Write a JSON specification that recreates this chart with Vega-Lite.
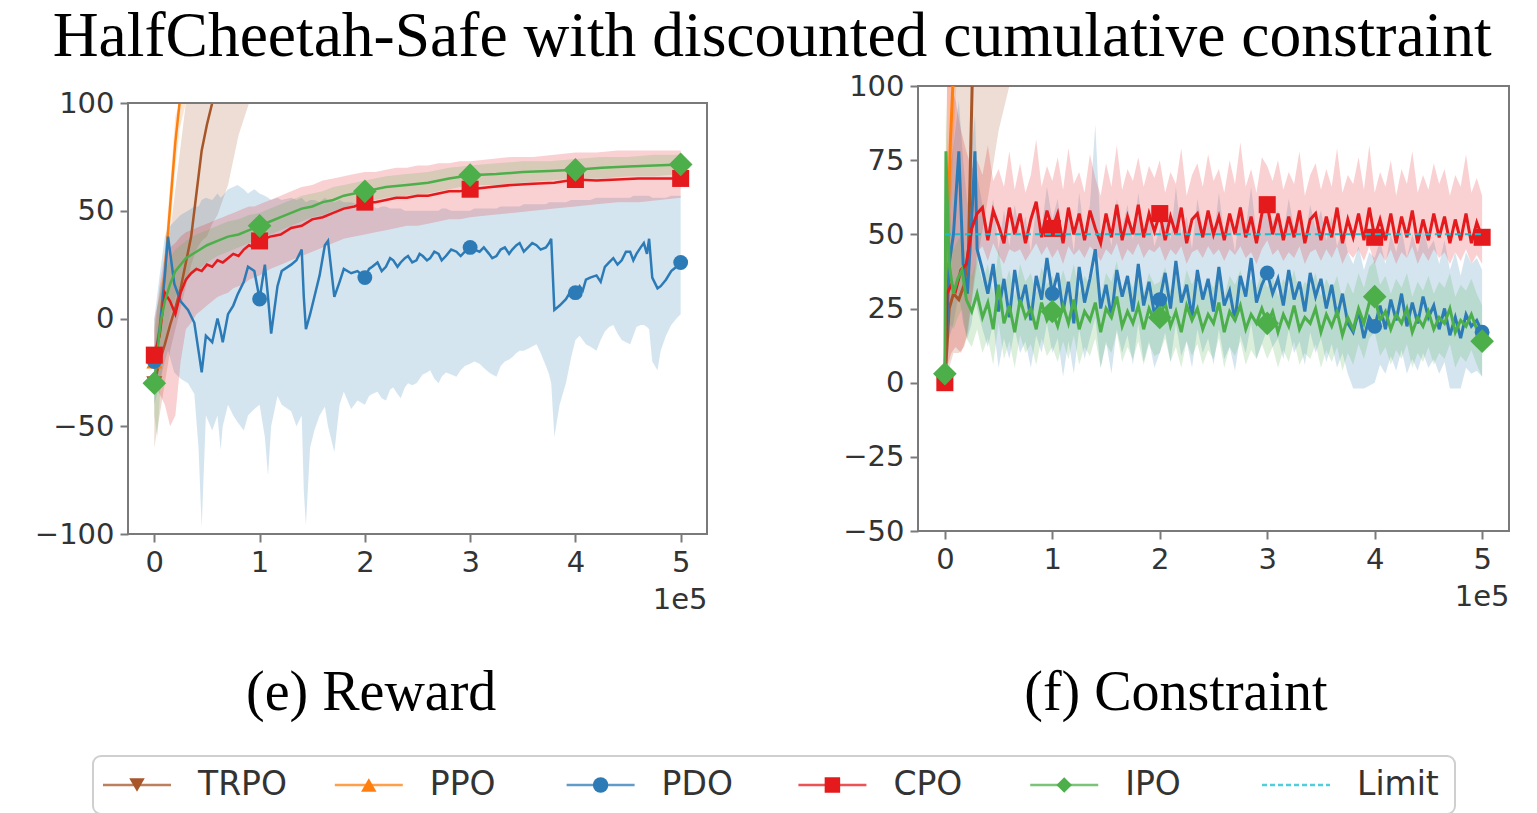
{
"$schema": "https://vega.github.io/schema/vega-lite/v6.json",
"background": "white",
"padding": {"left": 34, "top": 4, "right": 0, "bottom": 0},
"title": {"text": "HalfCheetah-Safe with discounted cumulative constraint", "fontSize": 63.5, "font": "Liberation Serif", "fontWeight": "normal", "color": "#000000", "anchor": "middle", "offset": 2},
"config": {
 "view": {"stroke": "#7a7a7a", "strokeWidth": 2},
 "axis": {"labelFont": "DejaVu Sans", "labelFontSize": 29, "labelColor": "#333333", "tickColor": "#7a7a7a", "tickWidth": 2, "tickSize": 8, "labelPadding": 6, "domain": false, "grid": false, "titleFont": "DejaVu Sans", "titleFontSize": 29, "titleFontWeight": "normal", "titleColor": "#333333"},
 "title": {"font": "Liberation Serif", "fontWeight": "normal", "color": "#000000"}
},
"datasets": {
"rew": [
{"a":"TRPO","x":0,"y":-30,"l":-60,"h":0},
{"a":"TRPO","x":0.05,"y":-20,"l":-45,"h":10},
{"a":"TRPO","x":0.1,"y":-12,"l":-30,"h":25},
{"a":"TRPO","x":0.15,"y":-3,"l":-15,"h":40},
{"a":"TRPO","x":0.2,"y":5,"l":-5,"h":60},
{"a":"TRPO","x":0.25,"y":14,"l":5,"h":80},
{"a":"TRPO","x":0.3,"y":26,"l":15,"h":100},
{"a":"TRPO","x":0.35,"y":38,"l":25,"h":120},
{"a":"TRPO","x":0.4,"y":58,"l":32,"h":140},
{"a":"TRPO","x":0.45,"y":78,"l":36,"h":160},
{"a":"TRPO","x":0.5,"y":90,"l":38,"h":180},
{"a":"TRPO","x":0.55,"y":100,"l":44,"h":200},
{"a":"TRPO","x":0.6,"y":110,"l":48,"h":220},
{"a":"TRPO","x":0.7,"y":130,"l":62,"h":240},
{"a":"TRPO","x":0.8,"y":150,"l":85,"h":260},
{"a":"TRPO","x":0.9,"y":170,"l":105,"h":280},
{"a":"PPO","x":0,"y":-20,"l":-25,"h":-15},
{"a":"PPO","x":0.05,"y":-5,"l":-12,"h":2},
{"a":"PPO","x":0.1,"y":22,"l":12,"h":32},
{"a":"PPO","x":0.15,"y":52,"l":40,"h":62},
{"a":"PPO","x":0.2,"y":82,"l":70,"h":94},
{"a":"PPO","x":0.24,"y":100,"l":88,"h":112},
{"a":"PPO","x":0.3,"y":130,"l":118,"h":142},
{"a":"PDO","x":0,"y":-20,"l":-40,"h":0},
{"a":"PDO","x":0.05,"y":-5,"l":-30,"h":20},
{"a":"PDO","x":0.1,"y":20,"l":-20,"h":38},
{"a":"PDO","x":0.13,"y":38,"l":-15,"h":42},
{"a":"PDO","x":0.19,"y":16,"l":-25,"h":45},
{"a":"PDO","x":0.25,"y":8,"l":-28,"h":48},
{"a":"PDO","x":0.32,"y":4,"l":-30,"h":50},
{"a":"PDO","x":0.38,"y":-2,"l":-35,"h":52},
{"a":"PDO","x":0.42,"y":-15,"l":-60,"h":52},
{"a":"PDO","x":0.45,"y":-25,"l":-97,"h":55},
{"a":"PDO","x":0.49,"y":-8,"l":-45,"h":56},
{"a":"PDO","x":0.55,"y":-11,"l":-52,"h":55},
{"a":"PDO","x":0.6,"y":0,"l":-45,"h":58},
{"a":"PDO","x":0.63,"y":-6,"l":-61,"h":56},
{"a":"PDO","x":0.65,"y":-11,"l":-50,"h":57},
{"a":"PDO","x":0.7,"y":2,"l":-40,"h":60},
{"a":"PDO","x":0.75,"y":6,"l":-45,"h":61},
{"a":"PDO","x":0.79,"y":11,"l":-48,"h":62},
{"a":"PDO","x":0.85,"y":17,"l":-52,"h":60},
{"a":"PDO","x":0.89,"y":24,"l":-45,"h":58},
{"a":"PDO","x":0.95,"y":22,"l":-42,"h":60},
{"a":"PDO","x":1,"y":9,"l":-40,"h":58},
{"a":"PDO","x":1.05,"y":25,"l":-55,"h":57},
{"a":"PDO","x":1.08,"y":10,"l":-73,"h":56},
{"a":"PDO","x":1.11,"y":-7,"l":-50,"h":55},
{"a":"PDO","x":1.17,"y":15,"l":-36,"h":56},
{"a":"PDO","x":1.21,"y":22,"l":-40,"h":55},
{"a":"PDO","x":1.3,"y":25,"l":-43,"h":56},
{"a":"PDO","x":1.35,"y":27,"l":-50,"h":55},
{"a":"PDO","x":1.4,"y":32,"l":-45,"h":56},
{"a":"PDO","x":1.42,"y":10,"l":-80,"h":55},
{"a":"PDO","x":1.44,"y":-5,"l":-96,"h":54},
{"a":"PDO","x":1.48,"y":2,"l":-60,"h":55},
{"a":"PDO","x":1.52,"y":10,"l":-52,"h":55},
{"a":"PDO","x":1.57,"y":20,"l":-45,"h":54},
{"a":"PDO","x":1.62,"y":34,"l":-41,"h":56},
{"a":"PDO","x":1.65,"y":36,"l":-50,"h":55},
{"a":"PDO","x":1.71,"y":10,"l":-62,"h":54},
{"a":"PDO","x":1.76,"y":17,"l":-40,"h":55},
{"a":"PDO","x":1.8,"y":23,"l":-34,"h":54},
{"a":"PDO","x":1.87,"y":21,"l":-42,"h":54},
{"a":"PDO","x":1.93,"y":22,"l":-38,"h":53},
{"a":"PDO","x":2,"y":19,"l":-40,"h":52},
{"a":"PDO","x":2.04,"y":23,"l":-36,"h":52},
{"a":"PDO","x":2.07,"y":24,"l":-35,"h":52},
{"a":"PDO","x":2.12,"y":26,"l":-34,"h":51},
{"a":"PDO","x":2.16,"y":22,"l":-37,"h":52},
{"a":"PDO","x":2.2,"y":24,"l":-38,"h":52},
{"a":"PDO","x":2.24,"y":28,"l":-33,"h":51},
{"a":"PDO","x":2.27,"y":27,"l":-32,"h":51},
{"a":"PDO","x":2.31,"y":24,"l":-35,"h":51},
{"a":"PDO","x":2.34,"y":26,"l":-37,"h":51},
{"a":"PDO","x":2.38,"y":28,"l":-32,"h":50},
{"a":"PDO","x":2.41,"y":29,"l":-30,"h":50},
{"a":"PDO","x":2.45,"y":26,"l":-31,"h":50},
{"a":"PDO","x":2.49,"y":27,"l":-30,"h":50},
{"a":"PDO","x":2.52,"y":30,"l":-28,"h":50},
{"a":"PDO","x":2.55,"y":29,"l":-26,"h":50},
{"a":"PDO","x":2.59,"y":27,"l":-25,"h":50},
{"a":"PDO","x":2.62,"y":28,"l":-24,"h":50},
{"a":"PDO","x":2.66,"y":31,"l":-28,"h":50},
{"a":"PDO","x":2.7,"y":30,"l":-30,"h":50},
{"a":"PDO","x":2.73,"y":27,"l":-27,"h":51},
{"a":"PDO","x":2.77,"y":29,"l":-25,"h":51},
{"a":"PDO","x":2.82,"y":32,"l":-26,"h":50},
{"a":"PDO","x":2.87,"y":31,"l":-27,"h":50},
{"a":"PDO","x":2.91,"y":29,"l":-24,"h":50},
{"a":"PDO","x":2.95,"y":31,"l":-22,"h":50},
{"a":"PDO","x":3,"y":33,"l":-21,"h":50},
{"a":"PDO","x":3.04,"y":32,"l":-20,"h":51},
{"a":"PDO","x":3.09,"y":31,"l":-21,"h":51},
{"a":"PDO","x":3.13,"y":33,"l":-23,"h":51},
{"a":"PDO","x":3.18,"y":30,"l":-25,"h":51},
{"a":"PDO","x":3.21,"y":28,"l":-26,"h":51},
{"a":"PDO","x":3.25,"y":29,"l":-27,"h":51},
{"a":"PDO","x":3.29,"y":32,"l":-22,"h":52},
{"a":"PDO","x":3.33,"y":33,"l":-20,"h":52},
{"a":"PDO","x":3.37,"y":30,"l":-19,"h":52},
{"a":"PDO","x":3.4,"y":32,"l":-18,"h":52},
{"a":"PDO","x":3.44,"y":34,"l":-16,"h":52},
{"a":"PDO","x":3.47,"y":35,"l":-15,"h":52},
{"a":"PDO","x":3.51,"y":31,"l":-15,"h":53},
{"a":"PDO","x":3.55,"y":33,"l":-14,"h":53},
{"a":"PDO","x":3.59,"y":35,"l":-13,"h":53},
{"a":"PDO","x":3.63,"y":34,"l":-12,"h":53},
{"a":"PDO","x":3.67,"y":32,"l":-16,"h":53},
{"a":"PDO","x":3.72,"y":33,"l":-22,"h":53},
{"a":"PDO","x":3.75,"y":35,"l":-26,"h":54},
{"a":"PDO","x":3.77,"y":37,"l":-30,"h":54},
{"a":"PDO","x":3.8,"y":4,"l":-55,"h":54},
{"a":"PDO","x":3.85,"y":6,"l":-40,"h":54},
{"a":"PDO","x":3.91,"y":9,"l":-30,"h":54},
{"a":"PDO","x":3.96,"y":13,"l":-18,"h":55},
{"a":"PDO","x":4,"y":12,"l":-10,"h":55},
{"a":"PDO","x":4.04,"y":15,"l":-8,"h":55},
{"a":"PDO","x":4.07,"y":13,"l":-10,"h":55},
{"a":"PDO","x":4.1,"y":18,"l":-12,"h":55},
{"a":"PDO","x":4.14,"y":19,"l":-13,"h":55},
{"a":"PDO","x":4.2,"y":20,"l":-15,"h":56},
{"a":"PDO","x":4.24,"y":17,"l":-10,"h":56},
{"a":"PDO","x":4.28,"y":24,"l":-6,"h":56},
{"a":"PDO","x":4.32,"y":26,"l":-4,"h":56},
{"a":"PDO","x":4.36,"y":28,"l":-3,"h":56},
{"a":"PDO","x":4.4,"y":25,"l":-7,"h":56},
{"a":"PDO","x":4.44,"y":27,"l":-10,"h":56},
{"a":"PDO","x":4.48,"y":31,"l":-11,"h":56},
{"a":"PDO","x":4.52,"y":31,"l":-12,"h":56},
{"a":"PDO","x":4.55,"y":27,"l":-8,"h":57},
{"a":"PDO","x":4.58,"y":30,"l":-4,"h":57},
{"a":"PDO","x":4.62,"y":33,"l":-3,"h":57},
{"a":"PDO","x":4.65,"y":35,"l":-3,"h":57},
{"a":"PDO","x":4.68,"y":30,"l":-4,"h":57},
{"a":"PDO","x":4.7,"y":37,"l":-5,"h":57},
{"a":"PDO","x":4.73,"y":19,"l":-20,"h":56},
{"a":"PDO","x":4.78,"y":14,"l":-24,"h":56},
{"a":"PDO","x":4.81,"y":15,"l":-15,"h":56},
{"a":"PDO","x":4.86,"y":18,"l":-8,"h":56},
{"a":"PDO","x":4.91,"y":22,"l":-3,"h":57},
{"a":"PDO","x":4.96,"y":24,"l":0,"h":57},
{"a":"PDO","x":5,"y":26,"l":2,"h":57},
{"a":"CPO","x":0,"y":-17,"l":-30,"h":-5},
{"a":"CPO","x":0.05,"y":-8,"l":-35,"h":15},
{"a":"CPO","x":0.1,"y":12,"l":-40,"h":30},
{"a":"CPO","x":0.15,"y":8,"l":-50,"h":33},
{"a":"CPO","x":0.2,"y":2,"l":-45,"h":35},
{"a":"CPO","x":0.25,"y":12,"l":-20,"h":38},
{"a":"CPO","x":0.3,"y":18,"l":-5,"h":40},
{"a":"CPO","x":0.35,"y":21,"l":-2,"h":41},
{"a":"CPO","x":0.4,"y":23,"l":2,"h":42},
{"a":"CPO","x":0.45,"y":22,"l":4,"h":43},
{"a":"CPO","x":0.5,"y":25,"l":6,"h":44},
{"a":"CPO","x":0.55,"y":24,"l":8,"h":45},
{"a":"CPO","x":0.6,"y":27,"l":10,"h":46},
{"a":"CPO","x":0.65,"y":26,"l":11,"h":47},
{"a":"CPO","x":0.7,"y":28,"l":12,"h":48},
{"a":"CPO","x":0.75,"y":30,"l":14,"h":49},
{"a":"CPO","x":0.8,"y":29,"l":15,"h":50},
{"a":"CPO","x":0.85,"y":32,"l":16,"h":51},
{"a":"CPO","x":0.9,"y":34,"l":18,"h":52},
{"a":"CPO","x":0.95,"y":33,"l":19,"h":52},
{"a":"CPO","x":1,"y":36,"l":20,"h":53},
{"a":"CPO","x":1.1,"y":38,"l":23,"h":55},
{"a":"CPO","x":1.2,"y":39,"l":25,"h":57},
{"a":"CPO","x":1.3,"y":42,"l":27,"h":59},
{"a":"CPO","x":1.4,"y":43,"l":29,"h":61},
{"a":"CPO","x":1.5,"y":46,"l":31,"h":62},
{"a":"CPO","x":1.6,"y":47,"l":33,"h":64},
{"a":"CPO","x":1.7,"y":49,"l":35,"h":65},
{"a":"CPO","x":1.8,"y":51,"l":37,"h":66},
{"a":"CPO","x":1.9,"y":52,"l":38,"h":67},
{"a":"CPO","x":2,"y":54,"l":39,"h":68},
{"a":"CPO","x":2.1,"y":54,"l":40,"h":68},
{"a":"CPO","x":2.2,"y":55,"l":41,"h":69},
{"a":"CPO","x":2.3,"y":56,"l":42,"h":70},
{"a":"CPO","x":2.4,"y":56,"l":43,"h":70},
{"a":"CPO","x":2.5,"y":57,"l":43,"h":71},
{"a":"CPO","x":2.6,"y":57,"l":44,"h":71},
{"a":"CPO","x":2.7,"y":58,"l":45,"h":72},
{"a":"CPO","x":2.8,"y":59,"l":46,"h":72},
{"a":"CPO","x":2.9,"y":59,"l":46,"h":73},
{"a":"CPO","x":3,"y":60,"l":47,"h":73},
{"a":"CPO","x":3.2,"y":61,"l":48,"h":74},
{"a":"CPO","x":3.4,"y":62,"l":49,"h":75},
{"a":"CPO","x":3.6,"y":62.5,"l":50,"h":75},
{"a":"CPO","x":3.8,"y":63,"l":51,"h":76},
{"a":"CPO","x":4,"y":64.5,"l":52,"h":77},
{"a":"CPO","x":4.2,"y":64,"l":53,"h":77},
{"a":"CPO","x":4.4,"y":64.5,"l":54,"h":78},
{"a":"CPO","x":4.6,"y":65,"l":54,"h":78},
{"a":"CPO","x":4.8,"y":65,"l":55,"h":78},
{"a":"CPO","x":5,"y":65,"l":56,"h":78},
{"a":"IPO","x":0,"y":-30,"l":-45,"h":-15},
{"a":"IPO","x":0.03,"y":-15,"l":-55,"h":5},
{"a":"IPO","x":0.06,"y":-2,"l":-30,"h":15},
{"a":"IPO","x":0.1,"y":8,"l":-10,"h":22},
{"a":"IPO","x":0.15,"y":16,"l":2,"h":28},
{"a":"IPO","x":0.2,"y":22,"l":10,"h":32},
{"a":"IPO","x":0.3,"y":28,"l":18,"h":36},
{"a":"IPO","x":0.4,"y":31,"l":22,"h":39},
{"a":"IPO","x":0.5,"y":34,"l":26,"h":41},
{"a":"IPO","x":0.6,"y":36,"l":29,"h":43},
{"a":"IPO","x":0.7,"y":38,"l":31,"h":45},
{"a":"IPO","x":0.8,"y":39,"l":33,"h":46},
{"a":"IPO","x":0.9,"y":41,"l":35,"h":48},
{"a":"IPO","x":1,"y":43,"l":37,"h":49},
{"a":"IPO","x":1.1,"y":45,"l":39,"h":51},
{"a":"IPO","x":1.2,"y":47,"l":41,"h":53},
{"a":"IPO","x":1.3,"y":49,"l":43,"h":55},
{"a":"IPO","x":1.4,"y":51,"l":45,"h":57},
{"a":"IPO","x":1.5,"y":52,"l":47,"h":58},
{"a":"IPO","x":1.6,"y":54,"l":48,"h":59},
{"a":"IPO","x":1.7,"y":55,"l":50,"h":61},
{"a":"IPO","x":1.8,"y":57,"l":51,"h":62},
{"a":"IPO","x":1.9,"y":58,"l":53,"h":63},
{"a":"IPO","x":2,"y":59,"l":54,"h":64},
{"a":"IPO","x":2.2,"y":61,"l":56,"h":66},
{"a":"IPO","x":2.4,"y":62,"l":57,"h":67},
{"a":"IPO","x":2.6,"y":63,"l":58,"h":68},
{"a":"IPO","x":2.8,"y":65,"l":60,"h":70},
{"a":"IPO","x":3,"y":66.5,"l":62,"h":71},
{"a":"IPO","x":3.25,"y":67,"l":62,"h":72},
{"a":"IPO","x":3.5,"y":68,"l":63,"h":73},
{"a":"IPO","x":3.75,"y":68.5,"l":64,"h":73},
{"a":"IPO","x":4,"y":69,"l":65,"h":74},
{"a":"IPO","x":4.25,"y":70,"l":65,"h":75},
{"a":"IPO","x":4.5,"y":70.5,"l":66,"h":75},
{"a":"IPO","x":4.75,"y":71,"l":66,"h":76},
{"a":"IPO","x":5,"y":71.5,"l":67,"h":76}
],
"con": [
{"a":"TRPO","x":0,"y":0,"l":-2,"h":2},
{"a":"TRPO","x":0.04,"y":25,"l":5,"h":80},
{"a":"TRPO","x":0.08,"y":30,"l":10,"h":110},
{"a":"TRPO","x":0.13,"y":28,"l":10,"h":130},
{"a":"TRPO","x":0.18,"y":33,"l":12,"h":150},
{"a":"TRPO","x":0.22,"y":45,"l":18,"h":170},
{"a":"TRPO","x":0.26,"y":110,"l":30,"h":190},
{"a":"TRPO","x":0.32,"y":150,"l":45,"h":210},
{"a":"TRPO","x":0.4,"y":170,"l":62,"h":230},
{"a":"TRPO","x":0.5,"y":190,"l":85,"h":250},
{"a":"TRPO","x":0.6,"y":210,"l":100,"h":270},
{"a":"PPO","x":0,"y":0,"l":-2,"h":2},
{"a":"PPO","x":0.02,"y":40,"l":20,"h":100},
{"a":"PPO","x":0.05,"y":80,"l":50,"h":120},
{"a":"PPO","x":0.08,"y":105,"l":80,"h":140},
{"a":"PPO","x":0.12,"y":140,"l":110,"h":170},
{"a":"PDO","x":0,"y":0,"l":-2,"h":2},
{"a":"PDO","x":0.04,"y":40,"l":15,"h":70},
{"a":"PDO","x":0.08,"y":50,"l":20,"h":80},
{"a":"PDO","x":0.13,"y":78,"l":30,"h":95},
{"a":"PDO","x":0.17,"y":40,"l":20,"h":75},
{"a":"PDO","x":0.21,"y":30,"l":15,"h":60},
{"a":"PDO","x":0.25,"y":55,"l":20,"h":80},
{"a":"PDO","x":0.28,"y":78,"l":30,"h":90},
{"a":"PDO","x":0.3,"y":45,"l":25,"h":70},
{"a":"PDO","x":0.35,"y":38,"l":18,"h":60},
{"a":"PDO","x":0.4,"y":30,"l":12,"h":52},
{"a":"PDO","x":0.45,"y":40,"l":20,"h":62},
{"a":"PDO","x":0.5,"y":24,"l":5,"h":45},
{"a":"PDO","x":0.55,"y":35,"l":15,"h":58},
{"a":"PDO","x":0.6,"y":22,"l":8,"h":46},
{"a":"PDO","x":0.65,"y":38,"l":18,"h":60},
{"a":"PDO","x":0.7,"y":26,"l":10,"h":50},
{"a":"PDO","x":0.75,"y":33,"l":14,"h":56},
{"a":"PDO","x":0.8,"y":21,"l":5,"h":44},
{"a":"PDO","x":0.85,"y":36,"l":16,"h":60},
{"a":"PDO","x":0.9,"y":28,"l":10,"h":52},
{"a":"PDO","x":0.95,"y":42,"l":20,"h":66},
{"a":"PDO","x":1,"y":30,"l":10,"h":55},
{"a":"PDO","x":1.05,"y":37,"l":15,"h":62},
{"a":"PDO","x":1.1,"y":24,"l":2,"h":48},
{"a":"PDO","x":1.15,"y":34,"l":14,"h":58},
{"a":"PDO","x":1.2,"y":20,"l":3,"h":44},
{"a":"PDO","x":1.25,"y":39,"l":18,"h":64},
{"a":"PDO","x":1.3,"y":27,"l":8,"h":50},
{"a":"PDO","x":1.35,"y":35,"l":15,"h":60},
{"a":"PDO","x":1.4,"y":45,"l":22,"h":87},
{"a":"PDO","x":1.45,"y":25,"l":5,"h":50},
{"a":"PDO","x":1.5,"y":33,"l":14,"h":56},
{"a":"PDO","x":1.55,"y":22,"l":3,"h":46},
{"a":"PDO","x":1.6,"y":38,"l":18,"h":62},
{"a":"PDO","x":1.65,"y":29,"l":10,"h":52},
{"a":"PDO","x":1.7,"y":36,"l":16,"h":60},
{"a":"PDO","x":1.75,"y":24,"l":6,"h":48},
{"a":"PDO","x":1.8,"y":40,"l":20,"h":64},
{"a":"PDO","x":1.85,"y":26,"l":7,"h":50},
{"a":"PDO","x":1.9,"y":34,"l":14,"h":58},
{"a":"PDO","x":1.95,"y":23,"l":5,"h":46},
{"a":"PDO","x":2,"y":28,"l":10,"h":52},
{"a":"PDO","x":2.05,"y":37,"l":17,"h":60},
{"a":"PDO","x":2.1,"y":25,"l":7,"h":48},
{"a":"PDO","x":2.15,"y":41,"l":20,"h":66},
{"a":"PDO","x":2.2,"y":27,"l":9,"h":50},
{"a":"PDO","x":2.25,"y":33,"l":14,"h":56},
{"a":"PDO","x":2.3,"y":22,"l":5,"h":45},
{"a":"PDO","x":2.35,"y":38,"l":18,"h":62},
{"a":"PDO","x":2.4,"y":28,"l":10,"h":52},
{"a":"PDO","x":2.45,"y":35,"l":15,"h":58},
{"a":"PDO","x":2.5,"y":24,"l":6,"h":48},
{"a":"PDO","x":2.55,"y":39,"l":18,"h":64},
{"a":"PDO","x":2.6,"y":26,"l":8,"h":50},
{"a":"PDO","x":2.65,"y":31,"l":12,"h":55},
{"a":"PDO","x":2.7,"y":21,"l":4,"h":44},
{"a":"PDO","x":2.75,"y":36,"l":16,"h":60},
{"a":"PDO","x":2.8,"y":29,"l":10,"h":52},
{"a":"PDO","x":2.85,"y":42,"l":20,"h":66},
{"a":"PDO","x":2.9,"y":27,"l":8,"h":50},
{"a":"PDO","x":2.95,"y":33,"l":13,"h":56},
{"a":"PDO","x":3,"y":37,"l":18,"h":60},
{"a":"PDO","x":3.05,"y":30,"l":12,"h":54},
{"a":"PDO","x":3.1,"y":35,"l":15,"h":58},
{"a":"PDO","x":3.15,"y":26,"l":8,"h":50},
{"a":"PDO","x":3.2,"y":38,"l":18,"h":62},
{"a":"PDO","x":3.25,"y":28,"l":10,"h":52},
{"a":"PDO","x":3.3,"y":34,"l":14,"h":58},
{"a":"PDO","x":3.35,"y":24,"l":6,"h":48},
{"a":"PDO","x":3.4,"y":37,"l":17,"h":60},
{"a":"PDO","x":3.45,"y":29,"l":10,"h":52},
{"a":"PDO","x":3.5,"y":35,"l":15,"h":58},
{"a":"PDO","x":3.55,"y":25,"l":7,"h":48},
{"a":"PDO","x":3.6,"y":33,"l":13,"h":56},
{"a":"PDO","x":3.65,"y":22,"l":5,"h":46},
{"a":"PDO","x":3.7,"y":30,"l":10,"h":52},
{"a":"PDO","x":3.75,"y":20,"l":3,"h":44},
{"a":"PDO","x":3.8,"y":17,"l":-2,"h":40},
{"a":"PDO","x":3.85,"y":24,"l":-2,"h":46},
{"a":"PDO","x":3.9,"y":15,"l":-2,"h":38},
{"a":"PDO","x":3.95,"y":22,"l":-1,"h":44},
{"a":"PDO","x":4,"y":19,"l":0,"h":42},
{"a":"PDO","x":4.05,"y":26,"l":6,"h":48},
{"a":"PDO","x":4.1,"y":18,"l":3,"h":40},
{"a":"PDO","x":4.15,"y":28,"l":9,"h":50},
{"a":"PDO","x":4.2,"y":21,"l":4,"h":44},
{"a":"PDO","x":4.25,"y":30,"l":11,"h":52},
{"a":"PDO","x":4.3,"y":19,"l":3,"h":42},
{"a":"PDO","x":4.35,"y":27,"l":8,"h":50},
{"a":"PDO","x":4.4,"y":20,"l":4,"h":44},
{"a":"PDO","x":4.45,"y":29,"l":10,"h":52},
{"a":"PDO","x":4.5,"y":22,"l":5,"h":45},
{"a":"PDO","x":4.55,"y":26,"l":8,"h":48},
{"a":"PDO","x":4.6,"y":18,"l":3,"h":40},
{"a":"PDO","x":4.65,"y":25,"l":7,"h":48},
{"a":"PDO","x":4.7,"y":16,"l":-2,"h":38},
{"a":"PDO","x":4.75,"y":22,"l":-2,"h":44},
{"a":"PDO","x":4.8,"y":15,"l":-2,"h":36},
{"a":"PDO","x":4.85,"y":23,"l":5,"h":44},
{"a":"PDO","x":4.9,"y":19,"l":3,"h":40},
{"a":"PDO","x":4.95,"y":21,"l":4,"h":42},
{"a":"PDO","x":5,"y":17,"l":2,"h":38},
{"a":"CPO","x":0,"y":0,"l":-2,"h":3},
{"a":"CPO","x":0.02,"y":30,"l":5,"h":100},
{"a":"CPO","x":0.06,"y":33,"l":10,"h":100},
{"a":"CPO","x":0.1,"y":31,"l":12,"h":95},
{"a":"CPO","x":0.15,"y":38,"l":10,"h":85},
{"a":"CPO","x":0.2,"y":40,"l":15,"h":78},
{"a":"CPO","x":0.25,"y":52,"l":28,"h":72},
{"a":"CPO","x":0.3,"y":57,"l":44,"h":75},
{"a":"CPO","x":0.35,"y":59,"l":46,"h":70},
{"a":"CPO","x":0.4,"y":48,"l":41,"h":80},
{"a":"CPO","x":0.45,"y":58,"l":47,"h":68},
{"a":"CPO","x":0.5,"y":53,"l":43,"h":72},
{"a":"CPO","x":0.55,"y":47,"l":40,"h":66},
{"a":"CPO","x":0.6,"y":59,"l":45,"h":78},
{"a":"CPO","x":0.65,"y":50,"l":44,"h":65},
{"a":"CPO","x":0.7,"y":57,"l":45,"h":74},
{"a":"CPO","x":0.75,"y":47,"l":41,"h":64},
{"a":"CPO","x":0.8,"y":55,"l":44,"h":70},
{"a":"CPO","x":0.85,"y":61,"l":47,"h":82},
{"a":"CPO","x":0.9,"y":49,"l":43,"h":66},
{"a":"CPO","x":0.95,"y":58,"l":46,"h":73},
{"a":"CPO","x":1,"y":52,"l":42,"h":68},
{"a":"CPO","x":1.05,"y":57,"l":45,"h":76},
{"a":"CPO","x":1.1,"y":47,"l":40,"h":65},
{"a":"CPO","x":1.15,"y":59,"l":46,"h":79},
{"a":"CPO","x":1.2,"y":50,"l":43,"h":67},
{"a":"CPO","x":1.25,"y":57,"l":45,"h":71},
{"a":"CPO","x":1.3,"y":48,"l":42,"h":64},
{"a":"CPO","x":1.35,"y":58,"l":46,"h":77},
{"a":"CPO","x":1.4,"y":52,"l":44,"h":69},
{"a":"CPO","x":1.45,"y":47,"l":41,"h":63},
{"a":"CPO","x":1.5,"y":57,"l":45,"h":74},
{"a":"CPO","x":1.55,"y":49,"l":43,"h":66},
{"a":"CPO","x":1.6,"y":60,"l":47,"h":80},
{"a":"CPO","x":1.65,"y":48,"l":41,"h":65},
{"a":"CPO","x":1.7,"y":56,"l":45,"h":72},
{"a":"CPO","x":1.75,"y":50,"l":43,"h":68},
{"a":"CPO","x":1.8,"y":60,"l":47,"h":76},
{"a":"CPO","x":1.85,"y":49,"l":42,"h":66},
{"a":"CPO","x":1.9,"y":57,"l":45,"h":73},
{"a":"CPO","x":1.95,"y":51,"l":44,"h":69},
{"a":"CPO","x":2,"y":57,"l":46,"h":75},
{"a":"CPO","x":2.05,"y":48,"l":41,"h":64},
{"a":"CPO","x":2.1,"y":56,"l":45,"h":71},
{"a":"CPO","x":2.15,"y":50,"l":43,"h":67},
{"a":"CPO","x":2.2,"y":59,"l":46,"h":79},
{"a":"CPO","x":2.25,"y":47,"l":40,"h":63},
{"a":"CPO","x":2.3,"y":55,"l":44,"h":70},
{"a":"CPO","x":2.35,"y":57,"l":45,"h":74},
{"a":"CPO","x":2.4,"y":49,"l":42,"h":66},
{"a":"CPO","x":2.45,"y":58,"l":46,"h":77},
{"a":"CPO","x":2.5,"y":50,"l":43,"h":68},
{"a":"CPO","x":2.55,"y":56,"l":45,"h":72},
{"a":"CPO","x":2.6,"y":48,"l":41,"h":64},
{"a":"CPO","x":2.65,"y":57,"l":45,"h":75},
{"a":"CPO","x":2.7,"y":50,"l":43,"h":67},
{"a":"CPO","x":2.75,"y":59,"l":46,"h":81},
{"a":"CPO","x":2.8,"y":49,"l":42,"h":66},
{"a":"CPO","x":2.85,"y":56,"l":44,"h":72},
{"a":"CPO","x":2.9,"y":47,"l":40,"h":64},
{"a":"CPO","x":2.95,"y":57,"l":45,"h":76},
{"a":"CPO","x":3,"y":60,"l":48,"h":73},
{"a":"CPO","x":3.05,"y":50,"l":43,"h":68},
{"a":"CPO","x":3.1,"y":57,"l":45,"h":75},
{"a":"CPO","x":3.15,"y":48,"l":41,"h":65},
{"a":"CPO","x":3.2,"y":56,"l":44,"h":71},
{"a":"CPO","x":3.25,"y":49,"l":42,"h":67},
{"a":"CPO","x":3.3,"y":58,"l":46,"h":78},
{"a":"CPO","x":3.35,"y":47,"l":40,"h":63},
{"a":"CPO","x":3.4,"y":55,"l":44,"h":70},
{"a":"CPO","x":3.45,"y":57,"l":45,"h":74},
{"a":"CPO","x":3.5,"y":48,"l":41,"h":65},
{"a":"CPO","x":3.55,"y":56,"l":45,"h":72},
{"a":"CPO","x":3.6,"y":49,"l":42,"h":66},
{"a":"CPO","x":3.65,"y":59,"l":46,"h":79},
{"a":"CPO","x":3.7,"y":47,"l":40,"h":64},
{"a":"CPO","x":3.75,"y":55,"l":44,"h":70},
{"a":"CPO","x":3.8,"y":49,"l":42,"h":67},
{"a":"CPO","x":3.85,"y":57,"l":45,"h":76},
{"a":"CPO","x":3.9,"y":48,"l":41,"h":65},
{"a":"CPO","x":3.95,"y":59,"l":46,"h":80},
{"a":"CPO","x":4,"y":49,"l":40,"h":64},
{"a":"CPO","x":4.05,"y":55,"l":44,"h":71},
{"a":"CPO","x":4.1,"y":48,"l":41,"h":66},
{"a":"CPO","x":4.15,"y":57,"l":45,"h":75},
{"a":"CPO","x":4.2,"y":47,"l":40,"h":63},
{"a":"CPO","x":4.25,"y":56,"l":44,"h":72},
{"a":"CPO","x":4.3,"y":49,"l":42,"h":67},
{"a":"CPO","x":4.35,"y":58,"l":46,"h":78},
{"a":"CPO","x":4.4,"y":47,"l":40,"h":64},
{"a":"CPO","x":4.45,"y":55,"l":44,"h":70},
{"a":"CPO","x":4.5,"y":48,"l":41,"h":65},
{"a":"CPO","x":4.55,"y":57,"l":45,"h":74},
{"a":"CPO","x":4.6,"y":49,"l":42,"h":67},
{"a":"CPO","x":4.65,"y":56,"l":44,"h":72},
{"a":"CPO","x":4.7,"y":47,"l":40,"h":63},
{"a":"CPO","x":4.75,"y":55,"l":44,"h":70},
{"a":"CPO","x":4.8,"y":48,"l":41,"h":66},
{"a":"CPO","x":4.85,"y":57,"l":45,"h":77},
{"a":"CPO","x":4.9,"y":47,"l":40,"h":64},
{"a":"CPO","x":4.95,"y":54,"l":43,"h":69},
{"a":"CPO","x":5,"y":49,"l":40,"h":63},
{"a":"IPO","x":0,"y":3,"l":0,"h":6},
{"a":"IPO","x":0.01,"y":78,"l":30,"h":95},
{"a":"IPO","x":0.04,"y":40,"l":20,"h":60},
{"a":"IPO","x":0.08,"y":30,"l":18,"h":45},
{"a":"IPO","x":0.12,"y":35,"l":22,"h":48},
{"a":"IPO","x":0.16,"y":38,"l":25,"h":50},
{"a":"IPO","x":0.2,"y":28,"l":15,"h":40},
{"a":"IPO","x":0.25,"y":24,"l":12,"h":36},
{"a":"IPO","x":0.3,"y":30,"l":18,"h":42},
{"a":"IPO","x":0.35,"y":22,"l":10,"h":34},
{"a":"IPO","x":0.4,"y":27,"l":15,"h":40},
{"a":"IPO","x":0.45,"y":18,"l":6,"h":30},
{"a":"IPO","x":0.5,"y":33,"l":20,"h":45},
{"a":"IPO","x":0.55,"y":20,"l":8,"h":32},
{"a":"IPO","x":0.6,"y":26,"l":14,"h":38},
{"a":"IPO","x":0.65,"y":17,"l":5,"h":29},
{"a":"IPO","x":0.7,"y":28,"l":16,"h":40},
{"a":"IPO","x":0.75,"y":22,"l":10,"h":34},
{"a":"IPO","x":0.8,"y":25,"l":13,"h":37},
{"a":"IPO","x":0.85,"y":18,"l":6,"h":30},
{"a":"IPO","x":0.9,"y":27,"l":15,"h":39},
{"a":"IPO","x":0.95,"y":21,"l":9,"h":33},
{"a":"IPO","x":1,"y":24,"l":12,"h":36},
{"a":"IPO","x":1.05,"y":19,"l":7,"h":31},
{"a":"IPO","x":1.1,"y":26,"l":14,"h":38},
{"a":"IPO","x":1.15,"y":20,"l":8,"h":32},
{"a":"IPO","x":1.2,"y":28,"l":16,"h":40},
{"a":"IPO","x":1.25,"y":18,"l":6,"h":30},
{"a":"IPO","x":1.3,"y":24,"l":12,"h":36},
{"a":"IPO","x":1.35,"y":21,"l":9,"h":33},
{"a":"IPO","x":1.4,"y":27,"l":15,"h":39},
{"a":"IPO","x":1.45,"y":17,"l":5,"h":29},
{"a":"IPO","x":1.5,"y":25,"l":13,"h":37},
{"a":"IPO","x":1.55,"y":22,"l":10,"h":34},
{"a":"IPO","x":1.6,"y":29,"l":17,"h":41},
{"a":"IPO","x":1.65,"y":19,"l":7,"h":31},
{"a":"IPO","x":1.7,"y":24,"l":12,"h":36},
{"a":"IPO","x":1.75,"y":20,"l":8,"h":32},
{"a":"IPO","x":1.8,"y":26,"l":14,"h":38},
{"a":"IPO","x":1.85,"y":18,"l":6,"h":30},
{"a":"IPO","x":1.9,"y":25,"l":13,"h":37},
{"a":"IPO","x":1.95,"y":21,"l":9,"h":33},
{"a":"IPO","x":2,"y":22,"l":10,"h":34},
{"a":"IPO","x":2.05,"y":27,"l":15,"h":39},
{"a":"IPO","x":2.1,"y":19,"l":7,"h":31},
{"a":"IPO","x":2.15,"y":24,"l":12,"h":36},
{"a":"IPO","x":2.2,"y":17,"l":5,"h":29},
{"a":"IPO","x":2.25,"y":26,"l":14,"h":38},
{"a":"IPO","x":2.3,"y":21,"l":9,"h":33},
{"a":"IPO","x":2.35,"y":25,"l":13,"h":37},
{"a":"IPO","x":2.4,"y":18,"l":6,"h":30},
{"a":"IPO","x":2.45,"y":23,"l":11,"h":35},
{"a":"IPO","x":2.5,"y":20,"l":8,"h":32},
{"a":"IPO","x":2.55,"y":27,"l":15,"h":39},
{"a":"IPO","x":2.6,"y":17,"l":5,"h":29},
{"a":"IPO","x":2.65,"y":24,"l":12,"h":36},
{"a":"IPO","x":2.7,"y":21,"l":9,"h":33},
{"a":"IPO","x":2.75,"y":26,"l":14,"h":38},
{"a":"IPO","x":2.8,"y":18,"l":6,"h":30},
{"a":"IPO","x":2.85,"y":23,"l":11,"h":35},
{"a":"IPO","x":2.9,"y":20,"l":8,"h":32},
{"a":"IPO","x":2.95,"y":25,"l":13,"h":37},
{"a":"IPO","x":3,"y":20,"l":8,"h":32},
{"a":"IPO","x":3.05,"y":24,"l":12,"h":36},
{"a":"IPO","x":3.1,"y":17,"l":5,"h":29},
{"a":"IPO","x":3.15,"y":23,"l":11,"h":35},
{"a":"IPO","x":3.2,"y":19,"l":7,"h":31},
{"a":"IPO","x":3.25,"y":26,"l":14,"h":38},
{"a":"IPO","x":3.3,"y":18,"l":6,"h":30},
{"a":"IPO","x":3.35,"y":22,"l":10,"h":34},
{"a":"IPO","x":3.4,"y":20,"l":8,"h":32},
{"a":"IPO","x":3.45,"y":25,"l":13,"h":37},
{"a":"IPO","x":3.5,"y":17,"l":5,"h":29},
{"a":"IPO","x":3.55,"y":23,"l":11,"h":35},
{"a":"IPO","x":3.6,"y":19,"l":7,"h":31},
{"a":"IPO","x":3.65,"y":24,"l":12,"h":36},
{"a":"IPO","x":3.7,"y":16,"l":4,"h":28},
{"a":"IPO","x":3.75,"y":22,"l":10,"h":34},
{"a":"IPO","x":3.8,"y":18,"l":6,"h":30},
{"a":"IPO","x":3.85,"y":25,"l":13,"h":37},
{"a":"IPO","x":3.9,"y":20,"l":8,"h":32},
{"a":"IPO","x":3.95,"y":27,"l":15,"h":39},
{"a":"IPO","x":4,"y":29,"l":17,"h":41},
{"a":"IPO","x":4.05,"y":21,"l":9,"h":33},
{"a":"IPO","x":4.1,"y":24,"l":12,"h":36},
{"a":"IPO","x":4.15,"y":18,"l":6,"h":30},
{"a":"IPO","x":4.2,"y":23,"l":11,"h":35},
{"a":"IPO","x":4.25,"y":20,"l":8,"h":32},
{"a":"IPO","x":4.3,"y":25,"l":13,"h":37},
{"a":"IPO","x":4.35,"y":17,"l":5,"h":29},
{"a":"IPO","x":4.4,"y":22,"l":10,"h":34},
{"a":"IPO","x":4.45,"y":19,"l":7,"h":31},
{"a":"IPO","x":4.5,"y":24,"l":12,"h":36},
{"a":"IPO","x":4.55,"y":18,"l":6,"h":30},
{"a":"IPO","x":4.6,"y":22,"l":10,"h":34},
{"a":"IPO","x":4.65,"y":20,"l":8,"h":32},
{"a":"IPO","x":4.7,"y":25,"l":13,"h":37},
{"a":"IPO","x":4.75,"y":17,"l":5,"h":29},
{"a":"IPO","x":4.8,"y":21,"l":9,"h":33},
{"a":"IPO","x":4.85,"y":19,"l":7,"h":31},
{"a":"IPO","x":4.9,"y":23,"l":11,"h":35},
{"a":"IPO","x":4.95,"y":18,"l":6,"h":30},
{"a":"IPO","x":5,"y":14,"l":2,"h":26},
{"a":"Limit","x":0,"y":50},
{"a":"Limit","x":5,"y":50}
],
"leg": [{"a":"TRPO"},{"a":"PPO"},{"a":"PDO"},{"a":"CPO"},{"a":"IPO"},{"a":"Limit"}]
},
"resolve": {"scale": {"x": "independent", "y": "independent"}},
"columns": 1,
"align": "none",
"spacing": 33,
"concat": [
{
 "columns": 2,
 "align": "none",
 "spacing": 133,
 "resolve": {"scale": {"x": "independent", "y": "independent"}},
 "concat": [
 {
  "width": 614, "height": 448,
  "view": {"stroke": null},
  "data": {"name": "rew"},
  "title": {"text": "(e) Reward", "orient": "bottom", "fontSize": 56, "anchor": "middle", "frame": "bounds", "offset": 52},
  "layer": [
   {"mark": {"type": "area", "opacity": 0.2},
    "encoding": {
     "x": {"field": "x", "type": "quantitative", "scale": {"domain": [-0.25, 5.25], "range": [35, 614], "nice": false, "zero": false}, "axis": {"values": [0, 1, 2, 3, 4, 5], "format": "d", "title": "1e5", "titleAnchor": "end", "titleAlign": "right", "titlePadding": 8}},
     "y": {"field": "l", "type": "quantitative", "scale": {"domain": [-100, 100], "range": [448, 17], "nice": false, "zero": false, "clamp": true}, "axis": {"values": [-100, -50, 0, 50, 100], "title": null, "offset": -35}},
     "y2": {"field": "h"},
     "color": {"field": "a", "type": "nominal", "scale": {"domain": ["TRPO", "PPO", "PDO", "CPO", "IPO", "Limit"], "range": ["#a65628", "#ff7f0e", "#2c7bb6", "#e41a1c", "#4daf4a", "#17becf"]}, "legend": null}
    }},
   {"transform": [{"filter": "datum.y <= 100"}],
    "mark": {"type": "line", "strokeWidth": 2.5},
    "encoding": {
     "x": {"field": "x", "type": "quantitative"},
     "y": {"field": "y", "type": "quantitative"},
     "color": {"field": "a", "type": "nominal", "legend": null}
    }},
   {"transform": [{"filter": "datum.x % 1 === 0"}],
    "mark": {"type": "point", "filled": true, "opacity": 1},
    "encoding": {
     "x": {"field": "x", "type": "quantitative"},
     "y": {"field": "y", "type": "quantitative"},
     "color": {"field": "a", "type": "nominal", "legend": null},
     "shape": {"field": "a", "type": "nominal", "scale": {"domain": ["TRPO", "PPO", "PDO", "CPO", "IPO"], "range": ["triangle-down", "triangle-up", "circle", "square", "diamond"]}, "legend": null},
     "size": {"field": "a", "type": "nominal", "scale": {"type": "ordinal", "domain": ["TRPO", "PPO", "PDO", "CPO", "IPO"], "range": [260, 260, 220, 290, 560]}, "legend": null}
    }},
   {"data": {"values": [{}]},
    "mark": {"type": "rect", "filled": false, "stroke": "#7a7a7a", "strokeWidth": 2},
    "encoding": {
     "x": {"datum": -0.25, "type": "quantitative"},
     "x2": {"datum": 5.25},
     "y": {"datum": -100, "type": "quantitative"},
     "y2": {"datum": 100}
    }}
  ]
 },
 {
  "width": 591, "height": 445,
  "data": {"name": "con"},
  "title": {"text": "(f) Constraint", "orient": "bottom", "fontSize": 56, "anchor": "middle", "frame": "bounds", "offset": 55},
  "layer": [
   {"transform": [{"filter": "datum.a !== 'Limit'"}],
    "mark": {"type": "area", "opacity": 0.2, "clip": true},
    "encoding": {
     "x": {"field": "x", "type": "quantitative", "scale": {"domain": [-0.25, 5.25], "nice": false, "zero": false}, "axis": {"values": [0, 1, 2, 3, 4, 5], "format": "d", "title": "1e5", "titleAnchor": "end", "titleAlign": "right", "titlePadding": 8}},
     "y": {"field": "l", "type": "quantitative", "scale": {"domain": [-50, 100], "nice": false, "zero": false}, "axis": {"values": [-50, -25, 0, 25, 50, 75, 100], "title": null}},
     "y2": {"field": "h"},
     "color": {"field": "a", "type": "nominal", "scale": {"domain": ["TRPO", "PPO", "PDO", "CPO", "IPO", "Limit"], "range": ["#a65628", "#ff7f0e", "#2c7bb6", "#e41a1c", "#4daf4a", "#17becf"]}, "legend": null}
    }},
   {"transform": [{"filter": "datum.a !== 'Limit'"}],
    "mark": {"type": "line", "strokeWidth": 3, "clip": true},
    "encoding": {
     "x": {"field": "x", "type": "quantitative"},
     "y": {"field": "y", "type": "quantitative"},
     "color": {"field": "a", "type": "nominal", "legend": null}
    }},
   {"transform": [{"filter": "datum.a !== 'Limit' && datum.x % 1 === 0"}],
    "mark": {"type": "point", "filled": true, "opacity": 1, "clip": true},
    "encoding": {
     "x": {"field": "x", "type": "quantitative"},
     "y": {"field": "y", "type": "quantitative"},
     "color": {"field": "a", "type": "nominal", "legend": null},
     "shape": {"field": "a", "type": "nominal", "scale": {"domain": ["TRPO", "PPO", "PDO", "CPO", "IPO"], "range": ["triangle-down", "triangle-up", "circle", "square", "diamond"]}, "legend": null},
     "size": {"field": "a", "type": "nominal", "scale": {"type": "ordinal", "domain": ["TRPO", "PPO", "PDO", "CPO", "IPO"], "range": [260, 260, 220, 290, 560]}, "legend": null}
    }},
   {"transform": [{"filter": "datum.a === 'Limit'"}],
    "mark": {"type": "line", "strokeWidth": 2, "strokeDash": [6, 4], "clip": true},
    "encoding": {
     "x": {"field": "x", "type": "quantitative"},
     "y": {"field": "y", "type": "quantitative"},
     "color": {"field": "a", "type": "nominal", "legend": null}
    }}
  ]
 }
 ]
},
{
 "width": 1362, "height": 58,
 "data": {"name": "leg"},
 "view": {"stroke": "#cfcfcf", "strokeWidth": 2, "cornerRadius": 8},
 "layer": [
  {"mark": {"type": "rule", "strokeWidth": 2.5, "opacity": 0.75, "xOffset": -34, "x2Offset": 34},
   "encoding": {
    "x": {"field": "a", "type": "nominal", "scale": {"type": "point", "domain": ["TRPO", "PPO", "PDO", "CPO", "IPO", "Limit"], "range": [44, 1203], "padding": 0}, "axis": null},
    "x2": {"field": "a"},
    "color": {"field": "a", "type": "nominal", "scale": {"domain": ["TRPO", "PPO", "PDO", "CPO", "IPO", "Limit"], "range": ["#a65628", "#ff7f0e", "#2c7bb6", "#e41a1c", "#4daf4a", "#17becf"]}, "legend": null},
    "strokeDash": {"condition": {"test": "datum.a === 'Limit'", "value": [5, 3]}, "value": [1, 0]}
   }},
  {"transform": [{"filter": "datum.a !== 'Limit'"}],
   "mark": {"type": "point", "filled": true, "opacity": 1, "size": 240},
   "encoding": {
    "x": {"field": "a", "type": "nominal", "axis": null},
    "color": {"field": "a", "type": "nominal", "legend": null},
    "shape": {"field": "a", "type": "nominal", "scale": {"domain": ["TRPO", "PPO", "PDO", "CPO", "IPO"], "range": ["triangle-down", "triangle-up", "circle", "square", "diamond"]}, "legend": null}
   }},
  {"mark": {"type": "text", "align": "left", "dx": 61, "fontSize": 33, "font": "DejaVu Sans", "color": "#333333"},
   "encoding": {
    "x": {"field": "a", "type": "nominal", "axis": null},
    "text": {"field": "a"}
   }}
 ]
}
]
}
